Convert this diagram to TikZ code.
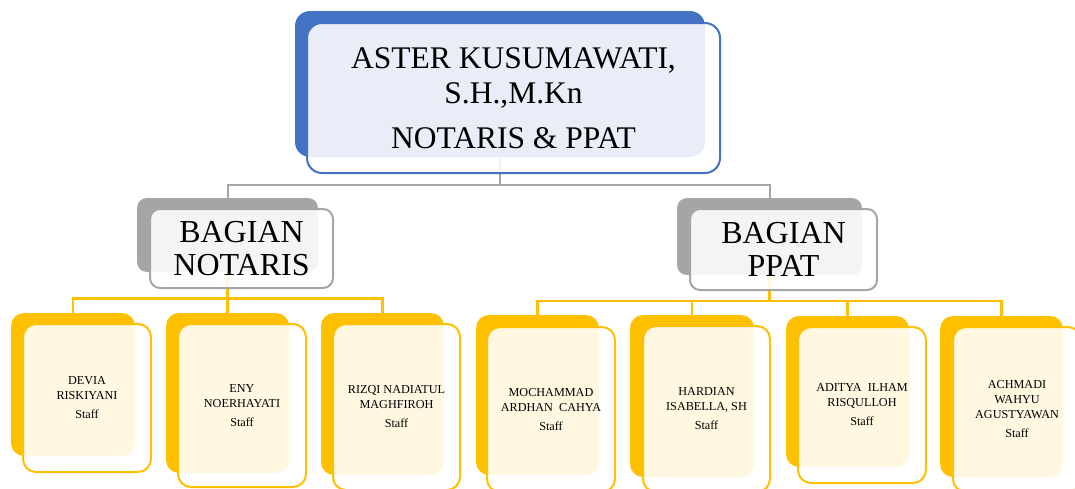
\documentclass[tikz,border=0pt]{standalone}
\usepackage{fontspec}
\setmainfont{Liberation Serif}
\definecolor{cblue}{HTML}{4472C4}
\definecolor{cgray}{HTML}{A5A5A5}
\definecolor{cyel}{HTML}{FFC000}
\tikzset{
  box/.style={rectangle, inner sep=0pt, outer sep=0pt, anchor=center},
  backbox/.style={box, fill=#1, draw=none},
  frontbox/.style={box, draw=#1, line width=2pt, fill=white, fill opacity=0.88, text opacity=1, align=center, text=black},
  topfont/.style={font=\fontsize{31.5}{35}\selectfont},
  midfont/.style={font=\fontsize{32}{33}\selectfont},
  stafffont/.style={font=\fontsize{12.2}{15}\selectfont},
  gline/.style={draw=cgray, line width=2pt},
  yline/.style={draw=cyel, line width=2.4pt},
}
\begin{document}
\begin{tikzpicture}[x=1pt,y=-1pt]
\useasboundingbox (0,0) rectangle (1075,488);
\clip (0,0) rectangle (1075,488);
% back boxes
\node[backbox=cblue, minimum width=410, minimum height=146, rounded corners=15] (topB) at (500,84) {};
\node[backbox=cgray, minimum width=181, minimum height=74, rounded corners=10] (notB) at (227.5,235) {};
\node[backbox=cgray, minimum width=185, minimum height=77, rounded corners=10] (ppatB) at (769.5,236.5) {};
\node[backbox=cyel, minimum width=124, minimum height=143, rounded corners=13] (s1B) at (73,384.5) {};
\node[backbox=cyel, minimum width=123, minimum height=160, rounded corners=13] (s2B) at (227.5,393) {};
\node[backbox=cyel, minimum width=123, minimum height=162, rounded corners=13] (s3B) at (382.5,394) {};
\node[backbox=cyel, minimum width=123, minimum height=160, rounded corners=13] (s4B) at (537.5,395) {};
\node[backbox=cyel, minimum width=124, minimum height=162, rounded corners=13] (s5B) at (692,396) {};
\node[backbox=cyel, minimum width=123, minimum height=151, rounded corners=13] (s6B) at (847.5,391.5) {};
\node[backbox=cyel, minimum width=123, minimum height=161, rounded corners=13] (s7B) at (1001.5,396.5) {};
% connectors
\coordinate (gy) at (0,185);
\coordinate (ly) at (0,298.5);
\coordinate (ry) at (0,301);
\draw[gline] (topB.south) -- (topB.south |- gy) -| (notB.north);
\draw[gline] (topB.south |- gy) -| (ppatB.north);
\draw[yline] (notB.south) -- (notB.south |- ly) -| (s1B.north);
\draw[yline] (notB.south |- ly) -| (s3B.north);
\draw[yline] (notB.south |- ly) -- (s2B.north);
\draw[yline] (ppatB.south) -- (ppatB.south |- ry) -| (s4B.north);
\draw[yline] (ppatB.south |- ry) -| (s7B.north);
\draw[yline] (s5B.north |- ry) -- (s5B.north);
\draw[yline] (s6B.north |- ry) -- (s6B.north);
% front boxes
\node[frontbox=cblue, topfont, minimum width=413, minimum height=150, rounded corners=15] (topF) at (513.5,98) {ASTER KUSUMAWATI,\\S.H.,M.Kn\\[10pt]NOTARIS \& PPAT};
\node[frontbox=cgray, midfont, minimum width=183, minimum height=79, rounded corners=10] (notF) at (241.5,248.5) {BAGIAN\\NOTARIS};
\node[frontbox=cgray, midfont, minimum width=187, minimum height=81, rounded corners=10] (ppatF) at (783.5,249.5) {BAGIAN\\PPAT};
\node[frontbox=cyel, stafffont, minimum width=128, minimum height=148, rounded corners=13] (s1F) at (87,398) {DEVIA\\RISKIYANI\\[4pt]Staff};
\node[frontbox=cyel, stafffont, minimum width=128, minimum height=163, rounded corners=13] (s2F) at (242,405.5) {ENY\\NOERHAYATI\\[4pt]Staff};
\node[frontbox=cyel, stafffont, minimum width=127, minimum height=166, rounded corners=13] (s3F) at (396.5,407) {RIZQI NADIATUL\\MAGHFIROH\\[4pt]Staff};
\node[frontbox=cyel, stafffont, minimum width=128, minimum height=165, rounded corners=13] (s4F) at (551,409.5) {MOCHAMMAD\\ARDHAN\ \ CAHYA\\[4pt]Staff};
\node[frontbox=cyel, stafffont, minimum width=127, minimum height=166, rounded corners=13] (s5F) at (706.5,409) {HARDIAN\\ISABELLA, SH\\[4pt]Staff};
\node[frontbox=cyel, stafffont, minimum width=128, minimum height=156, rounded corners=13] (s6F) at (862,405) {ADITYA\ \ ILHAM\\RISQULLOH\\[4pt]Staff};
\node[frontbox=cyel, stafffont, minimum width=128, minimum height=165, rounded corners=13] (s7F) at (1017,409.5) {ACHMADI\\WAHYU\\AGUSTYAWAN\\[4pt]Staff};
\end{tikzpicture}
\end{document}
